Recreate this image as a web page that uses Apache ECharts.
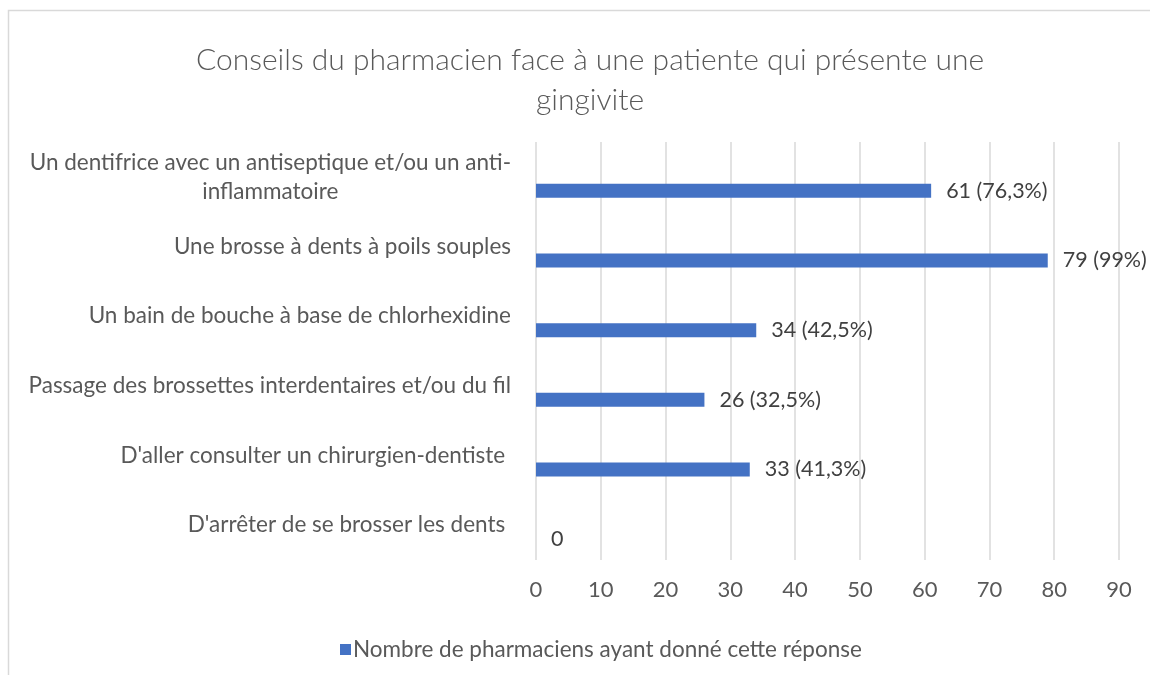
<!DOCTYPE html>
<html>
<head>
<meta charset="utf-8">
<script src="https://cdn.jsdelivr.net/npm/echarts@6/dist/echarts.min.js"></script>
<style>
  html, body { margin: 0; padding: 0; background: #fff; }
  #chart { width: 1150px; height: 675px; }
</style>
</head>
<body>
<div id="chart"></div>
<script>
// données
const categories = [
  "Un dentifrice avec un antiseptique et/ou un anti-\ninflammatoire",
  "Une brosse à dents à poils souples",
  "Un bain de bouche à base de chlorhexidine",
  "Passage des brossettes interdentaires et/ou du fil",
  "D'aller consulter un chirurgien-dentiste ",
  "D'arrêter de se brosser les dents "
];
const counts = [61, 79, 34, 26, 33, 0];
const countLabels = ["61 (76,3%)", "79 (99%)", "34 (42,5%)", "26 (32,5%)", "33 (41,3%)", "0"];
const xTicks = [0, 10, 20, 30, 40, 50, 60, 70, 80, 90];
const seriesName = "Nombre de pharmaciens ayant donné cette réponse";

const font = "Lato";
const textColor = "#595959";

let myChart = echarts.init(document.getElementById('chart'));

let option = {
  animation: false,
  textStyle: { fontFamily: font },
  title: {
    text: "Conseils du pharmacien face à une patiente qui présente une\ngingivite",
    left: 585,
    textAlign: 'center',
    top: 35,
    textStyle: {
      fontFamily: font,
      fontSize: 30,
      fontWeight: 300,
      color: textColor,
      lineHeight: 40
    }
  },
  graphic: [{
    type: 'rect',
    shape: { x: 8.5, y: 10.5, width: 1160, height: 700 },
    style: { fill: null, stroke: '#d9d9d9', lineWidth: 1.5 },
    silent: true
  }],
  legend: {
    data: [seriesName],
    left: 335,
    top: 633,
    icon: 'rect',
    itemWidth: 11,
    itemHeight: 11,
    itemGap: 4,
    textStyle: { fontFamily: font, fontSize: 22.5, color: textColor, padding: [0, 0, 0, -3] }
  },
  grid: { left: 536, right: 31, top: 142, bottom: 115 },
  xAxis: {
    type: 'value',
    min: 0,
    max: 90,
    interval: 10,
    axisLine: { show: false },
    axisTick: { show: false },
    axisLabel: {
      margin: 19,
      fontSize: 22,
      color: textColor,
      fontFamily: font,
      formatter: v => xTicks.includes(v) ? String(v) : ''
    },
    splitLine: { lineStyle: { color: '#d9d9d9', width: 1.5 } }
  },
  yAxis: {
    type: 'category',
    inverse: true,
    data: categories,
    axisLine: { show: false },
    axisTick: { show: false },
    axisLabel: {
      margin: 25,
      color: textColor,
      fontFamily: font,
      fontSize: 22.5,
      lineHeight: 29,
      formatter: v => v.split('\n').map(s => '{c|' + s + '}').join('\n'),
      rich: {
        c: { align: 'center', fontSize: 22.5, color: textColor, fontFamily: font, lineHeight: 29 }
      }
    }
  },
  series: [
    {
      name: 'vide',
      type: 'bar',
      barWidth: 14,
      data: counts.map(() => null),
      silent: true
    },
    {
      name: seriesName,
      type: 'bar',
      barWidth: 14,
      barGap: '100%',
      data: counts,
      itemStyle: { color: '#4472c4' },
      label: {
        show: true,
        position: 'right',
        distance: 15,
        fontSize: 21.5,
        fontFamily: font,
        color: '#404040',
        formatter: p => countLabels[p.dataIndex]
      }
    }
  ]
};

myChart.setOption(option);
</script>
</body>
</html>
